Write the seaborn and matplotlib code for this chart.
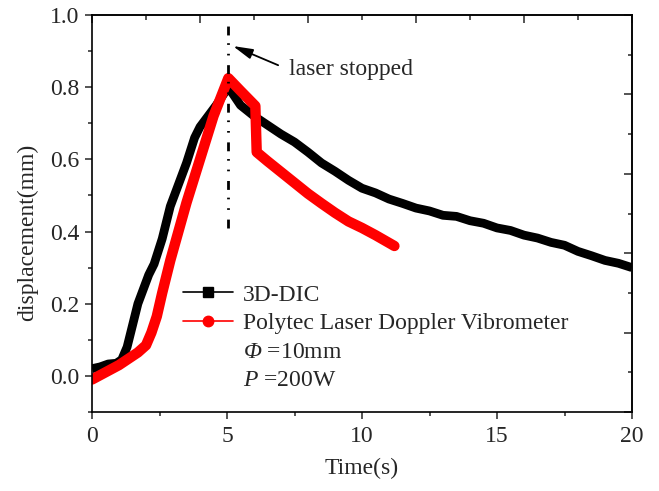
import numpy as np
import pandas as pd
import matplotlib
matplotlib.use("Agg")
import matplotlib.pyplot as plt
from matplotlib.lines import Line2D
from matplotlib.ticker import MultipleLocator, FixedLocator, FormatStrFormatter
import seaborn as sns

# ---- data ----
dic_t = [0, 0.3, 0.6, 0.9, 1.1, 1.3, 1.5, 1.7, 1.9, 2.1, 2.3, 2.6, 2.9, 3.2, 3.5, 3.8,
         4.0, 4.3, 4.6, 5.05, 5.5, 6.0, 6.5, 7.0, 7.5, 8.0, 8.5, 9.0, 9.5, 10, 10.5,
         11, 11.5, 12, 12.5, 13, 13.5, 14, 14.5, 15, 15.5, 16, 16.5, 17, 17.5, 18,
         18.5, 19, 19.5, 20]
dic_y = [0.02, 0.025, 0.033, 0.035, 0.045, 0.08, 0.14, 0.20, 0.24, 0.28, 0.31, 0.38,
         0.47, 0.53, 0.59, 0.66, 0.69, 0.72, 0.75, 0.80, 0.75, 0.72, 0.695, 0.67, 0.648,
         0.62, 0.59, 0.567, 0.542, 0.52, 0.507, 0.49, 0.478, 0.465, 0.457, 0.445, 0.442,
         0.43, 0.423, 0.41, 0.403, 0.39, 0.382, 0.37, 0.362, 0.345, 0.333, 0.32, 0.312, 0.30]

ldv_t = [0, 0.5, 1.0, 1.4, 1.7, 2.0, 2.2, 2.4, 2.6, 2.9, 3.2, 3.5, 4.0, 4.5, 5.05, 5.5,
         6.05, 6.1, 6.5, 7.0, 7.5, 8.0, 8.5, 9.0, 9.5, 10, 10.5, 11.2]
ldv_y = [-0.01, 0.01, 0.03, 0.05, 0.065, 0.085, 0.12, 0.165, 0.23, 0.32, 0.40, 0.48,
         0.60, 0.72, 0.825, 0.79, 0.748, 0.62, 0.595, 0.565, 0.535, 0.505, 0.478, 0.452,
         0.428, 0.41, 0.39, 0.36]

laser_stop_t = 5.05
legend_labels = ["3D-DIC", "Polytec Laser Doppler Vibrometer"]
note_labels = [r"$\mathsf{Φ}$ =10mm", r"$\mathit{P}$ =200W"]

sns.set_style("ticks")
plt.rcParams["font.family"] = ["Liberation Serif", "DejaVu Serif"]
plt.rcParams["mathtext.fontset"] = "custom"
plt.rcParams["mathtext.rm"] = "Liberation Serif"
plt.rcParams["mathtext.it"] = "Liberation Serif:italic"
plt.rcParams["mathtext.sf"] = "Liberation Serif:italic"
FS = 17
plt.rcParams["font.size"] = FS

fig = plt.figure(figsize=(6.59, 4.91), dpi=100)
ax = fig.add_axes([92/659, 1-412/491, 540/659, 397/491])

df_dic = pd.DataFrame({"t": dic_t, "y": dic_y})
df_ldv = pd.DataFrame({"t": ldv_t, "y": ldv_y})

sns.lineplot(data=df_dic, x="t", y="y", ax=ax, color="black", lw=6.3,
             solid_joinstyle="round", solid_capstyle="butt", estimator=None, sort=False)
sns.lineplot(data=df_ldv, x="t", y="y", ax=ax, color="#ff0000", lw=7.5,
             solid_joinstyle="round", solid_capstyle="round", estimator=None, sort=False)

# laser stopped marker line
ax.plot([laser_stop_t, laser_stop_t], [0.41, 0.98], color="black", lw=2,
        linestyle=(0, (3.2, 3.5, 0.6, 3.2, 0.6, 2.8)), dash_capstyle="butt")
ax.annotate("laser stopped", xy=(5.22, 0.914), xytext=(7.3, 0.848),
            fontsize=FS, va="center", ha="left",
            arrowprops=dict(arrowstyle="-|>,head_length=0.7,head_width=0.18",
                            color="black", lw=1.3, shrinkA=6, shrinkB=0,
                            relpos=(0, 0.5)))

ax.set_xlim(0, 20)
ax.set_ylim(-0.1, 1.0)
ax.xaxis.set_major_locator(MultipleLocator(5))
ax.xaxis.set_minor_locator(MultipleLocator(2.5))
ax.yaxis.set_major_locator(MultipleLocator(0.2))
ax.yaxis.set_minor_locator(MultipleLocator(0.1))
ax.xaxis.set_major_formatter(FormatStrFormatter("%g"))
ax.yaxis.set_major_formatter(FormatStrFormatter("%.1f"))
ax.tick_params(which="major", direction="out", length=5, width=1.1, labelsize=FS, pad=4)
ax.tick_params(which="minor", direction="out", length=2.6, width=1.1)
ax.tick_params(axis="x", which="major", pad=5)
for s in ax.spines.values():
    s.set_linewidth(1.2)
    s.set_visible(True)
    s.set_color("black")

ax.set_xlabel("Time(s)", fontsize=FS)
ax.set_ylabel("displacement(mm)", fontsize=FS)
ax.xaxis.set_label_coords(0.5, -0.116)
ax.yaxis.set_label_coords(-0.100, 0.453)

# top / right axes with inward ticks
top = ax.secondary_xaxis("top")
top.xaxis.set_major_locator(FixedLocator([0, 4, 8, 12, 16, 20]))
top.xaxis.set_minor_locator(FixedLocator([2, 6, 10, 14, 18]))
top.tick_params(which="major", direction="in", length=5.5, width=1.1, labeltop=False)
top.tick_params(which="minor", direction="in", length=3.5, width=1.1)
top.spines["top"].set_linewidth(1.2)

right = ax.secondary_yaxis("right")
right.yaxis.set_major_locator(FixedLocator([-0.1, 0.12, 0.34, 0.56, 0.78, 1.0]))
right.yaxis.set_minor_locator(FixedLocator([0.01, 0.23, 0.45, 0.67, 0.89]))
right.tick_params(which="major", direction="in", length=5.5, width=1.1, labelright=False)
right.tick_params(which="minor", direction="in", length=2.6, width=1.1)
right.spines["right"].set_linewidth(1.2)

handles = [
    Line2D([], [], color="black", lw=1.2, marker="s", markersize=6.5),
    Line2D([], [], color="#ff0000", lw=1.2, marker="o", markersize=7.5),
    Line2D([], [], color="none", lw=0),
    Line2D([], [], color="none", lw=0),
]
ax.legend(handles, legend_labels + note_labels, loc="upper left",
          bbox_to_anchor=((183 - 92) / 540, (412 - 284) / 397), frameon=False,
          fontsize=FS, handlelength=2.1, handletextpad=0.45, labelspacing=0.3,
          borderaxespad=0, borderpad=0)

fig.savefig("out.png", dpi=100, facecolor="white")
